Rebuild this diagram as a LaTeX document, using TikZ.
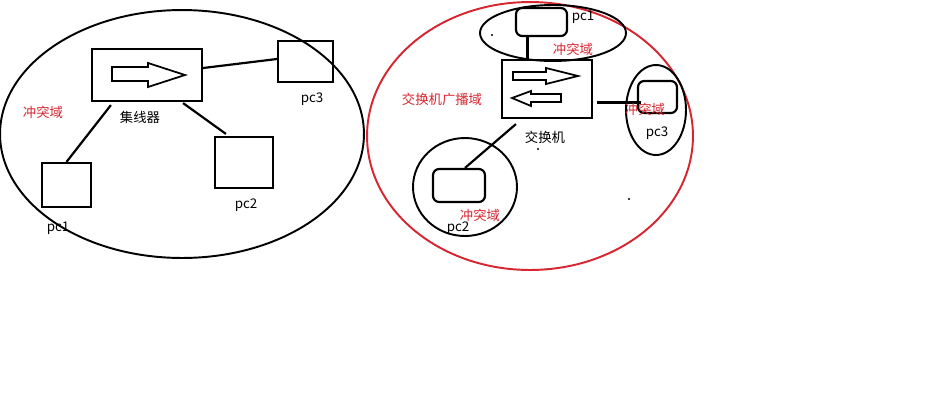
\documentclass[tikz,border=0pt]{standalone}
\usepackage{fontspec}
\setmainfont{Noto Sans CJK SC}
\usepackage{tikz}
\usetikzlibrary{shapes.geometric}
\definecolor{domred}{RGB}{214,38,48}

\begin{document}
\begin{tikzpicture}
    [
        x=0.02cm, y=-0.02cm,
        line width=1.25pt,
        pcbox/.style={draw, inner sep=0pt},
        pcround/.style={draw, inner sep=0pt, rounded corners=3.5pt},
        domring/.style={draw, ellipse, inner sep=0pt, line width=1.1pt},
        lbl/.style={font=\fontsize{7.6}{9}\selectfont, inner sep=0pt},
        redlbl/.style={lbl, text=domred}
    ]
    \useasboundingbox (0,0) rectangle (930,400);
    % hub side
    \node[domring, minimum width=7.28cm, minimum height=4.96cm] (domL) at (182,134) {};
    \node[pcbox, minimum width=2.2cm, minimum height=1.04cm] (hub) at (147,75) {};
    \draw[line width=1pt] (112,67) -- (148,67) -- (148,63) -- (185,75) -- (148,87) -- (148,81) -- (112,81) -- cycle;
    \node[pcbox, minimum width=1.1cm, minimum height=0.82cm] (pc3L) at (305.5,61.5) {};
    \node[pcbox, minimum width=1.16cm, minimum height=1.02cm] (pc2L) at (244,162.5) {};
    \node[pcbox, minimum width=0.98cm, minimum height=0.88cm] (pc1L) at (66.5,185) {};
    \draw ([yshift=0.14cm]hub.east) -- ([yshift=0.05cm]pc3L.west);
    \draw ([xshift=0.4cm,yshift=-0.06cm]hub.south west) -- (pc1L.north);
    \draw ([xshift=-0.4cm,yshift=-0.02cm]hub.south east) -- ([xshift=0.24cm,yshift=0.04cm]pc2L.north west);
    \node[lbl] (hubtxt) at (140,117) {集线器};
    \node[lbl] (pc3Ltxt) at (312,99) {pc3};
    \node[lbl] (pc2Ltxt) at (246,205) {pc2};
    \node[lbl] (pc1Ltxt) at (58,228) {pc1};
    \node[redlbl] (domLtxt) at (43,112) {冲突域};
    % switch side
    \node[domring, draw=domred, minimum width=6.52cm, minimum height=5.36cm] (domR) at (530,136) {};
    \node[domring, minimum width=2.92cm, minimum height=1.12cm] (dom1) at (553,33) {};
    \node[domring, minimum width=1.2cm, minimum height=1.8cm] (dom3) at (656,110) {};
    \node[domring, minimum width=2.08cm, minimum height=1.96cm] (dom2) at (465,187) {};
    \node[pcbox, minimum width=1.8cm, minimum height=1.16cm] (sw) at (547,89) {};
    \draw[line width=1pt] (513,72) -- (546,72) -- (546,68) -- (578,76) -- (546,84) -- (546,80) -- (513,80) -- cycle;
    \draw[line width=1pt] (561,94) -- (531,94) -- (531,91) -- (512,98) -- (531,106) -- (531,102) -- (561,102) -- cycle;
    \node[pcround, minimum width=1.02cm, minimum height=0.56cm] (pc1R) at (541.5,22) {};
    \node[pcround, minimum width=0.78cm, minimum height=0.64cm] (pc3R) at (657.5,97) {};
    \node[pcround, minimum width=1.04cm, minimum height=0.66cm] (pc2R) at (459,185.5) {};
    \draw ([xshift=-0.28cm]pc1R.south) -- ([xshift=-0.28cm]pc1R.south |- sw.north);
    \draw ([shift={(0.08cm,-0.27cm)}]sw.east) -- ([shift={(0.08cm,-0.27cm)}]sw.east -| pc3R.west);
    \draw ([xshift=0.3cm,yshift=-0.1cm]sw.south west) -- ([xshift=0.12cm]pc2R.north);
    \node[lbl] (swtxt) at (545,137) {交换机};
    \node[lbl] (pc1Rtxt) at (583,17) {pc1};
    \node[lbl] (pc3Rtxt) at (657,133) {pc3};
    \node[lbl] (pc2Rtxt) at (458,228) {pc2};
    \node[redlbl] (domRtxt) at (442,99) {交换机广播域};
    \node[redlbl] (dom1txt) at (573,49) {冲突域};
    \node[redlbl] (dom3txt) at (645,109) {冲突域};
    \node[redlbl] (dom2txt) at (480,215) {冲突域};
    \foreach \p in {(492,35),(538,149),(629,199)}
        \fill \p circle (0.6pt);
\end{tikzpicture}
\end{document}
